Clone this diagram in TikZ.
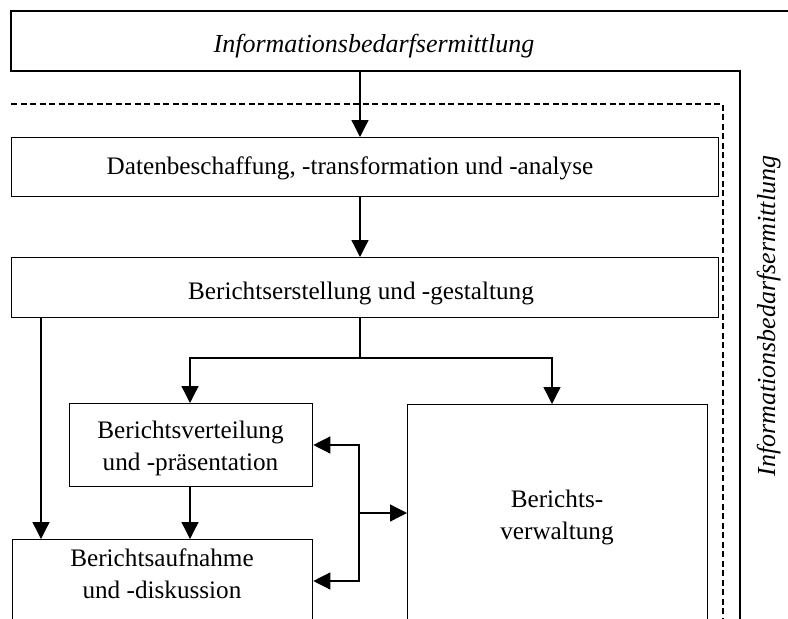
\documentclass[tikz,border=0pt]{standalone}
\usepackage{fontspec}
\setmainfont{Liberation Serif}
\usetikzlibrary{arrows.meta}
\tikzset{
  boxline/.style={line width=1.3pt},
  bx/.style={draw, line width=1.3pt, rectangle, inner sep=0pt, anchor=north west},
  txt/.style={font=\fontsize{25.2}{32}\selectfont, align=center, inner sep=0pt, anchor=base},
  itxt/.style={font=\fontsize{26}{32}\selectfont\itshape, inner sep=0pt, anchor=base},
  arr/.style={line width=1.3pt, -{Triangle[length=17pt,width=17pt]}},
  ln/.style={line width=1.3pt},
  dsh/.style={line width=1.3pt, dash pattern=on 6pt off 3.5pt}
}
\begin{document}
\begin{tikzpicture}[x=1pt,y=-1pt]
\useasboundingbox (0,0) rectangle (788,619);
\clip (0,0) rectangle (788,619);
% outer L-shaped frame
\draw[boxline] (800,11) -- (11,11) -- (11,71) -- (740,71) -- (740,700);
\coordinate (topbot) at (360,71);
\node[itxt] (toplbl) at (374,52) {Informationsbedarfsermittlung};
\node[itxt, rotate=90] (sidelbl) at (775,316) {Informationsbedarfsermittlung};
% dashed frame
\draw[dsh] (11,104) -- (723,104) -- (723,700);
% boxes
\node[bx, minimum width=707pt, minimum height=59pt] (daten) at (11,137) {};
\node[txt] at (350,174) {Datenbeschaffung, -transformation und -analyse};
\node[bx, minimum width=707pt, minimum height=60pt] (erst) at (11,257) {};
\node[txt] at (361,299) {Berichtserstellung und -gestaltung};
\node[bx, minimum width=243pt, minimum height=83pt] (vert) at (69,403) {};
\node[txt] at (190.5,470) {Berichtsverteilung\\und -präsentation};
\node[bx, minimum width=300pt, minimum height=300pt] (verw) at (407,404) {};
\node[txt] at (557,539) {Berichts-\\verwaltung};
\node[bx, minimum width=300pt, minimum height=300pt] (aufn) at (12,539) {};
\node[txt] at (162,598) {Berichtsaufnahme\\und -diskussion};
% connectors
\draw[arr] (topbot) -- (daten.north -| topbot);
\draw[arr] (daten.south -| topbot) -- (erst.north -| topbot);
\coordinate (br) at (360,358);
\draw[ln] (erst.south -| br) -- (br);
\draw[arr] (br) -| (vert.north -| 190,0);
\draw[arr] (br) -| (verw.north -| 552,0);
\draw[arr] (erst.south -| 41,0) -- (aufn.north -| 41,0);
\draw[arr] (vert.south -| 190,0) -- (aufn.north -| 190,0);
\coordinate (bus) at (359,513);
\draw[arr] (bus) |- (vert.east |- 0,445);
\draw[arr] (bus) |- (aufn.east |- 0,581);
\draw[arr] (bus) -- (verw.west |- bus);
\end{tikzpicture}
\end{document}
